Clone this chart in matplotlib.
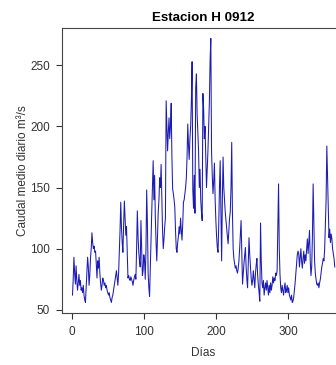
import numpy as np
import matplotlib
matplotlib.use("Agg")
import matplotlib.pyplot as plt

plt.rcParams['font.family'] = ['Liberation Sans', 'DejaVu Sans']

# caudal medio diario (m3/s), dias 1..365
caudal = [
    62, 75, 93, 80, 71, 86, 74, 66, 72, 79,
    70, 74, 66, 68, 64, 70, 62, 58, 56, 68,
    80, 93, 85, 70, 78, 92, 100, 113, 105, 100,
    102, 97, 98, 88, 76, 90, 84, 93, 80, 72,
    66, 70, 76, 74, 70, 72, 68, 70, 66, 64,
    62, 64, 60, 58, 56, 60, 62, 66, 70, 74,
    78, 82, 76, 70, 80, 98, 115, 138, 117, 105,
    97, 120, 139, 125, 111, 118, 97, 76, 78, 75,
    74, 77, 75, 73, 70, 74, 77, 79, 75, 100,
    131, 110, 97, 90, 85, 123, 100, 78, 82, 95,
    90, 75, 100, 148, 120, 80, 68, 61, 85, 110,
    130, 150, 172, 140, 160, 125, 105, 90, 110, 130,
    140, 158, 150, 169, 140, 115, 100, 108, 118, 125,
    221, 200, 180, 195, 207, 190, 200, 219, 175, 149,
    145, 140, 134, 115, 100, 97, 105, 110, 118, 112,
    125, 115, 107, 120, 138, 140, 145, 150, 158, 175,
    202, 185, 173, 190, 200, 221, 253, 148, 133, 160,
    129, 232, 243, 210, 195, 180, 150, 165, 140, 130,
    123, 227, 215, 190, 200, 175, 150, 165, 180, 200,
    220, 254, 272, 180, 160, 145, 155, 170, 140, 123,
    110, 101, 97, 120, 150, 172, 130, 90, 140, 175,
    150, 140, 130, 123, 115, 110, 104, 115, 125, 130,
    150, 187, 130, 100, 92, 88, 84, 86, 82, 80,
    84, 90, 100, 112, 123, 95, 71, 80, 88, 95,
    101, 85, 75, 68, 90, 109, 95, 85, 76, 70,
    74, 82, 75, 68, 80, 87, 92, 78, 70, 64,
    57, 121, 90, 72, 68, 74, 62, 68, 72, 66,
    74, 68, 62, 70, 64, 72, 66, 70, 77, 72,
    76, 74, 80, 78, 82, 120, 153, 100, 79, 68,
    64, 70, 66, 62, 68, 72, 64, 66, 70, 64,
    68, 62, 60, 58, 62, 56, 57, 60, 66, 72,
    80, 88, 95, 98, 96, 85, 92, 100, 90, 84,
    92, 98, 88, 95, 90, 100, 108, 96, 105, 115,
    90, 78, 85, 110, 153, 120, 90, 80, 75, 71,
    70, 72, 68, 72, 75, 80, 85, 88, 92, 90,
    100, 120, 140, 184, 158, 130, 109, 116, 105, 112,
    108, 100, 96, 92, 85,
]
dias = np.arange(1, len(caudal) + 1)
xticks = [0, 100, 200, 300]
yticks = [50, 100, 150, 200, 250]

fig = plt.figure(figsize=(3.36, 3.65), dpi=100)
ax = fig.add_axes([0.1845, 0.1425, 0.843, 0.781])

ax.plot(dias, caudal, color='#1c1cb4', lw=0.75)
ax.margins(x=0.04, y=0.04)

ax.set_xticks(xticks)
ax.set_yticks(yticks)
ax.tick_params(direction='out', length=4, width=0.8, colors='#333333',
               labelsize=8.5)
ax.tick_params(axis='x', pad=5.5)
ax.tick_params(axis='y', pad=4.5)
for s in ax.spines.values():
    s.set_color('#444444')
    s.set_linewidth(0.8)

ax.set_title('Estacion H 0912', fontsize=9.6, fontweight='bold', pad=5)
ax.set_xlabel('Días', fontsize=8.5, color='#333333', labelpad=6)
ax.set_ylabel('Caudal medio diario m³/s', fontsize=8.5, color='#333333',
              labelpad=1)

fig.savefig('out.png', dpi=100)
